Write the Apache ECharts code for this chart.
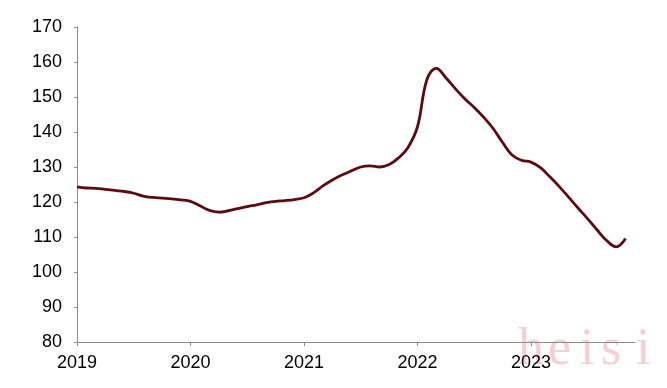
<!DOCTYPE html>
<html>
<head>
<meta charset="utf-8">
<script src="https://cdn.jsdelivr.net/npm/echarts@6/dist/echarts.min.js"></script>
<style>html,body{margin:0;padding:0;background:#fff}#c{width:667px;height:388px}</style>
</head>
<body>
<div id="c"></div>
<script>
var years = ['2019','2020','2021','2022','2023'];
var months = [];
years.forEach(function(y){ for (var m = 1; m <= 12; m++) months.push(y + '-' + (m < 10 ? '0' + m : m)); });

var v2019 = [124.3, 124.0, 123.9, 123.6, 123.3, 123.0, 122.5, 121.7, 121.3, 121.1, 120.9, 120.6];
var v2020 = [120.2, 118.9, 117.6, 117.1, 117.5, 118.1, 118.7, 119.2, 119.8, 120.2, 120.4, 120.7];
var v2021 = [121.2, 122.6, 124.6, 126.3, 127.7, 128.9, 130.0, 130.3, 130.0, 130.7, 132.6, 135.6];
var v2022 = [141.5, 155.0, 158.2, 155.5, 152.4, 149.5, 147.0, 144.2, 141.0, 137.0, 133.4, 131.9];
var v2023 = [131.4, 129.8, 127.2, 124.4, 121.3, 118.2, 115.2, 112.0, 109.0, 107.2, 109.6, null];
var values = [].concat(v2019, v2020, v2021, v2022, v2023);

var yMin = 80, yMax = 170, yStep = 10;

var chart = echarts.init(document.getElementById('c'));
var wm = ['h','e','i','s','i'];
var wmX = [518, 548, 580, 601, 636];
chart.setOption({
  animation: false,
  backgroundColor: '#fff',
  grid: { left: 77, right: 32, top: 27, bottom: 46 },
  xAxis: {
    type: 'category',
    data: months,
    boundaryGap: false,
    axisLine: { lineStyle: { color: '#8c8c8c', width: 1 } },
    axisTick: { show: true, length: 4, lineStyle: { color: '#8c8c8c' },
      interval: function(i){ return i % 12 === 0; } },
    axisLabel: { color: '#000', fontSize: 18, fontFamily: 'Liberation Sans, Arial', margin: 12,
      interval: function(i){ return i % 12 === 0; },
      formatter: function(v){ return v.slice(0,4); } },
    splitLine: { show: false }
  },
  yAxis: {
    type: 'value', min: yMin, max: yMax, interval: yStep,
    axisLine: { show: true, lineStyle: { color: '#8c8c8c', width: 1 } },
    axisTick: { show: true, length: 3, lineStyle: { color: '#8c8c8c' } },
    axisLabel: { color: '#000', fontSize: 18, fontFamily: 'Liberation Sans, Arial', margin: 15 },
    splitLine: { show: false }
  },
  graphic: wm.map(function(ch, i){
    return { type: 'text', left: wmX[i], top: 324, z: -1, silent: true,
      style: { text: ch, fontSize: 52, fontFamily: 'Liberation Serif, serif', fill: 'rgba(236,160,168,0.5)' } };
  }),
  series: [{
    type: 'line',
    data: values,
    smooth: 0.4,
    showSymbol: false,
    connectNulls: false,
    lineStyle: { color: '#5e0b10', width: 2.8 },
    z: 3
  }]
});
</script>
</body>
</html>
